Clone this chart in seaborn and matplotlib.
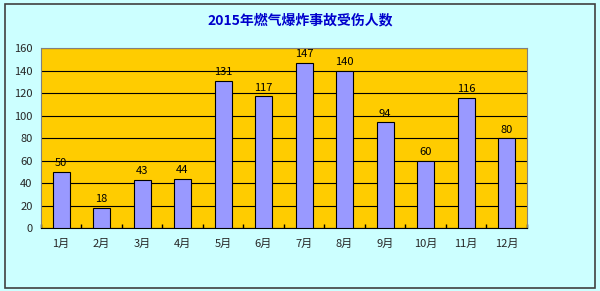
import matplotlib
matplotlib.use("Agg")
import matplotlib.pyplot as plt
import seaborn as sns
import pandas as pd
from matplotlib.patches import Rectangle

months = ["1月", "2月", "3月", "4月", "5月", "6月", "7月", "8月", "9月", "10月", "11月", "12月"]
injured = [50, 18, 43, 44, 131, 117, 147, 140, 94, 60, 116, 80]
yticks = [0, 20, 40, 60, 80, 100, 120, 140, 160]
title = "2015年燃气爆炸事故受伤人数"

sns.set_theme(style="white")
plt.rcParams['font.family'] = ['Noto Sans CJK SC', 'DejaVu Sans']

df = pd.DataFrame({"month": months, "injured": injured})

fig = plt.figure(figsize=(6, 2.91), dpi=100, facecolor="#CCFFFF")
fig.patches.append(Rectangle((0.008, 0.012), 0.984, 0.975, transform=fig.transFigure,
                             fill=False, edgecolor="#404040", linewidth=1.2))
ax = fig.add_axes([0.068, 0.2165, 0.81, 0.6185])
ax.set_facecolor("#FFCC00")

sns.barplot(data=df, x="month", y="injured", ax=ax, color="#9999FF", width=0.42,
            edgecolor="black", linewidth=0.8, saturation=1, zorder=3)

ax.set_ylim(0, 160)
ax.set_xlim(-0.5, len(months) - 0.5)
ax.set_yticks(yticks)
ax.yaxis.grid(True, color="black", linewidth=0.8, zorder=0)
ax.set_axisbelow(True)
for s in ax.spines.values():
    s.set_color("#808080")
    s.set_linewidth(0.8)
ax.spines["bottom"].set_color("black")

ax.set_xticks([i + 0.5 for i in range(-1, len(months))], minor=True)
ax.tick_params(axis="x", which="minor", direction="in", length=3, color="black", bottom=True)
ax.tick_params(axis="x", which="major", length=0, labelsize=8, pad=8)
ax.tick_params(axis="y", which="major", length=0, labelsize=8, pad=6)
ax.set_xlabel("")
ax.set_ylabel("")

for i, v in enumerate(injured):
    ax.text(i, v + 3, str(v), ha="center", va="bottom", fontsize=8, color="black")

fig.text(0.5, 0.93, title, ha="center", va="center", fontsize=10, fontweight="bold", color="#0000CC")

fig.savefig("out.png", dpi=100, facecolor=fig.get_facecolor())
